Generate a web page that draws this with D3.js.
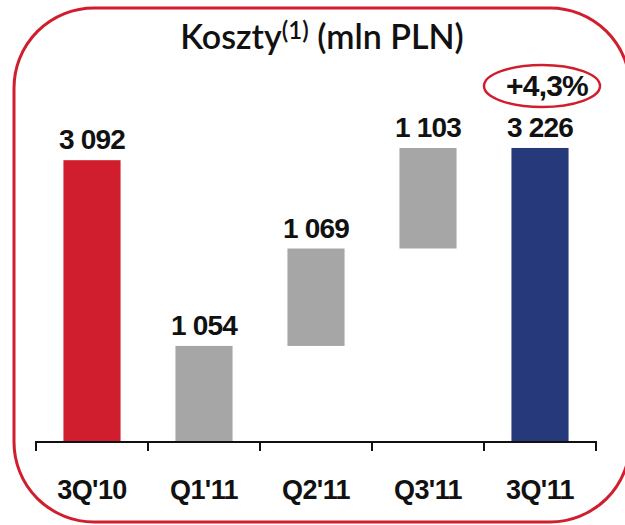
<!DOCTYPE html>
<html>
<head>
    <meta charset="utf-8">
    <style>
        body {
            margin: 0;
            background: white;
            overflow: hidden;
        }
        svg {
            display: block;
        }
        .title {
            font: 600 34px Lato, "Open Sans", sans-serif;
            fill: #111;
        }
        .value {
            font: bold 28px "Liberation Sans", Arial, sans-serif;
            fill: #111;
            letter-spacing: -0.8px;
        }
        .cat {
            font: bold 27px "Liberation Sans", Arial, sans-serif;
            fill: #111;
            letter-spacing: -0.6px;
        }
    </style>
    <script src="https://d3js.org/d3.v7.min.js"></script>
</head>
<body>
<script>
const width = 625;
const height = 525;

// chart data
const categories = ["3Q'10", "Q1'11", "Q2'11", "Q3'11", "3Q'11"];
const values = [3092, 1054, 1069, 1103, 3226];
const kinds = ["total", "step", "step", "step", "total"];
const colors = {total0: "#d01e2e", step: "#a6a6a6", total1: "#263a7b"};

const red = "#d01e2e";

const pl = d3.formatLocale({decimal: ",", thousands: " ", grouping: [3], currency: ["", ""]});
const fmt = pl.format(",d");
const pct = pl.format("+.1%");

// waterfall bars: steps stack up from zero, totals stand on the axis
let run = 0;
const bars = categories.map((c, i) => {
    let y0, y1;
    if (kinds[i] === "total") {
        y0 = 0; y1 = values[i];
    } else {
        y0 = run; y1 = run + values[i]; run = y1;
    }
    const color = kinds[i] === "step" ? colors.step : (i === 0 ? colors.total0 : colors.total1);
    return {cat: c, value: values[i], y0, y1, color};
});

const svg = d3.select("body").append("svg")
    .attr("width", width)
    .attr("height", height);

// rounded frame
svg.append("rect")
    .attr("x", 14).attr("y", 8)
    .attr("width", 616).attr("height", 514)
    .attr("rx", 80).attr("ry", 80)
    .attr("fill", "none")
    .attr("stroke", red)
    .attr("stroke-width", 3);

// title
const title = svg.append("text")
    .attr("class", "title")
    .attr("x", 322).attr("y", 49)
    .attr("text-anchor", "middle");
title.append("tspan").text("Koszty");
title.append("tspan").attr("font-size", "24px").attr("dy", -10).text("(1)");
title.append("tspan").attr("dy", 10).text(" (mln PLN)");

const x = d3.scaleBand()
    .domain(categories)
    .range([36, 596])
    .paddingInner(0.49)
    .paddingOuter(0.245);

const y = d3.scaleLinear()
    .domain([0, 3500])
    .range([442, 123]);

// bars
svg.append("g")
    .selectAll("rect")
    .data(bars)
    .join("rect")
    .attr("x", d => x(d.cat))
    .attr("width", x.bandwidth())
    .attr("y", d => y(d.y1))
    .attr("height", d => y(d.y0) - y(d.y1))
    .attr("fill", d => d.color);

// value labels
svg.append("g")
    .selectAll("text")
    .data(bars)
    .join("text")
    .attr("class", "value")
    .attr("x", d => x(d.cat) + x.bandwidth() / 2)
    .attr("y", d => y(d.y1) - 11)
    .attr("text-anchor", "middle")
    .text(d => fmt(d.value));

// axis: line plus ticks at band edges
const axis = svg.append("g").attr("transform", `translate(0,${y(0)})`);
const edges = categories.map(c => x(c) - x.step() * x.paddingInner() / 2)
    .concat([x.range()[1]]);
axis.append("line")
    .attr("x1", x.range()[0]).attr("x2", x.range()[1])
    .attr("stroke", "#111").attr("stroke-width", 2);
axis.selectAll(".tick")
    .data(edges)
    .join("line")
    .attr("x1", d => d).attr("x2", d => d)
    .attr("y1", -1).attr("y2", 9)
    .attr("stroke", "#111").attr("stroke-width", 2);
axis.selectAll(".cat")
    .data(categories)
    .join("text")
    .attr("class", "cat")
    .attr("x", d => x(d) + x.bandwidth() / 2)
    .attr("y", 57)
    .attr("text-anchor", "middle")
    .text(d => d);

// change badge over the last bar
const last = bars[bars.length - 1];
const change = last.value / bars[0].value - 1;
const cx = x(last.cat) + x.bandwidth() / 2 + 2;
svg.append("ellipse")
    .attr("cx", cx).attr("cy", 86)
    .attr("rx", 58).attr("ry", 21)
    .attr("fill", "none")
    .attr("stroke", red)
    .attr("stroke-width", 2.5);
svg.append("text")
    .attr("class", "value")
    .attr("x", cx + 5).attr("y", 96)
    .attr("text-anchor", "middle")
    .style("font-size", "30px")
    .text(pct(change));
</script>
</body>
</html>
